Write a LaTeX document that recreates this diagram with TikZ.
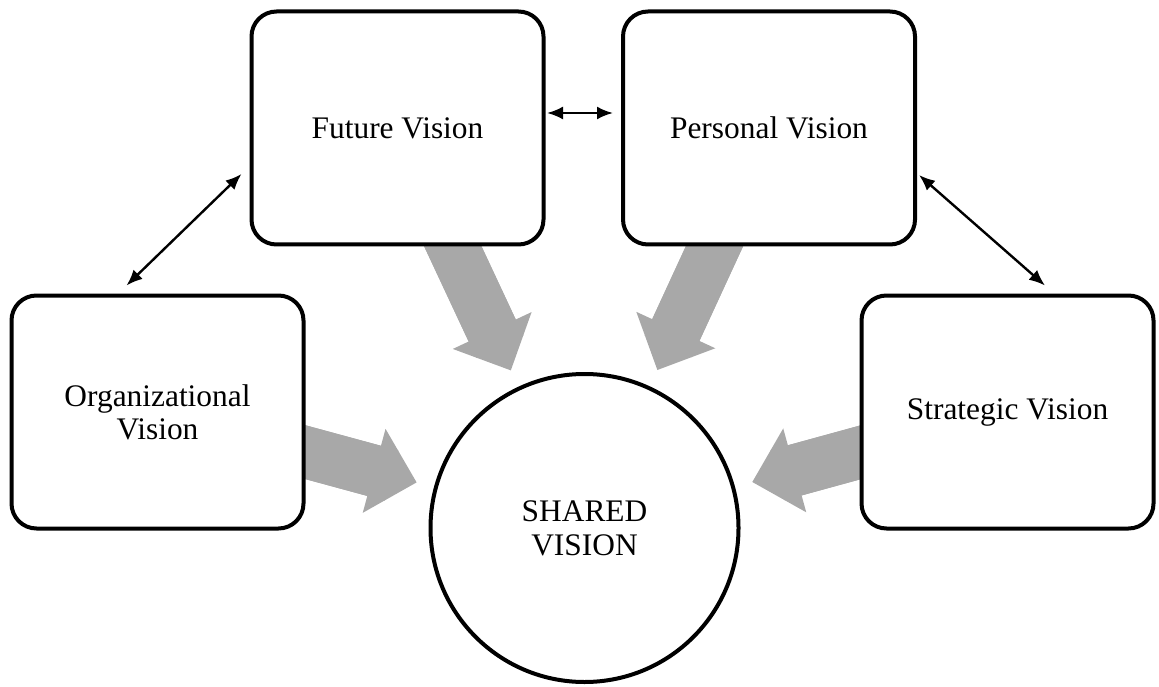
\documentclass[tikz,border=0pt]{standalone}
\usepackage{fontspec}
\setmainfont{Liberation Serif}
\usepackage{tikz}
\usetikzlibrary{arrows.meta,positioning,calc,backgrounds}
\definecolor{vgray}{RGB}{168,168,168}
\tikzset{
  vblock/.style={
    rectangle, draw=black, fill=white, line width=2pt, rounded corners=12.5pt,
    minimum width=146pt, minimum height=116.5pt, inner sep=0pt, align=center,
    font=\fontsize{15.7}{16.5}\selectfont
  },
  vcircle/.style={
    circle, draw=black, fill=white, line width=2pt, minimum size=154pt,
    inner sep=0pt, align=center, font=\fontsize{15.7}{17}\selectfont
  },
  varrow/.style={draw=black, line width=1.2pt,
    {Latex[length=8pt,width=6.5pt]}-{Latex[length=8pt,width=6.5pt]}},
  vbig/.style={draw=vgray, line width=26pt,
    -{Triangle[length=22pt,width=43.5pt,line width=0pt]}, shorten >=87pt,
    preaction={draw=vgray, line width=26pt, -, shorten >=100pt}}
}

\begin{document}
\begin{tikzpicture}[x=0.5pt, y=0.5pt]
        \useasboundingbox (0,0) rectangle (1159,686);
        \node[vblock]  (fv)  at (397.5,558)  {Future Vision};
        \node[vblock]  (pv)  at (769,558)    {Personal Vision};
        \node[vblock]  (ov)  at (157.5,274)  {Organizational\\Vision};
        \node[vblock]  (stv) at (1007.5,274) {Strategic Vision};
        \node[vcircle] (sv)  at (584.5,158)  {SHARED\\VISION};
        \begin{scope}[on background layer]
          \foreach \i in {fv,pv,ov,stv}
            \draw[vbig] (\i.center) -- (sv.center);
        \end{scope}
        \draw[varrow] ($(ov.north)+(-31,8)$) -- ($(fv.west)+(-8,-46)$);
        \draw[varrow] ($(fv.east)+(1.5,15)$) -- ($(pv.west)+(-8,15)$);
        \draw[varrow] ($(pv.east)+(2,-47)$) -- ($(stv.north)+(37.5,8)$);
      \end{tikzpicture}
\end{document}
